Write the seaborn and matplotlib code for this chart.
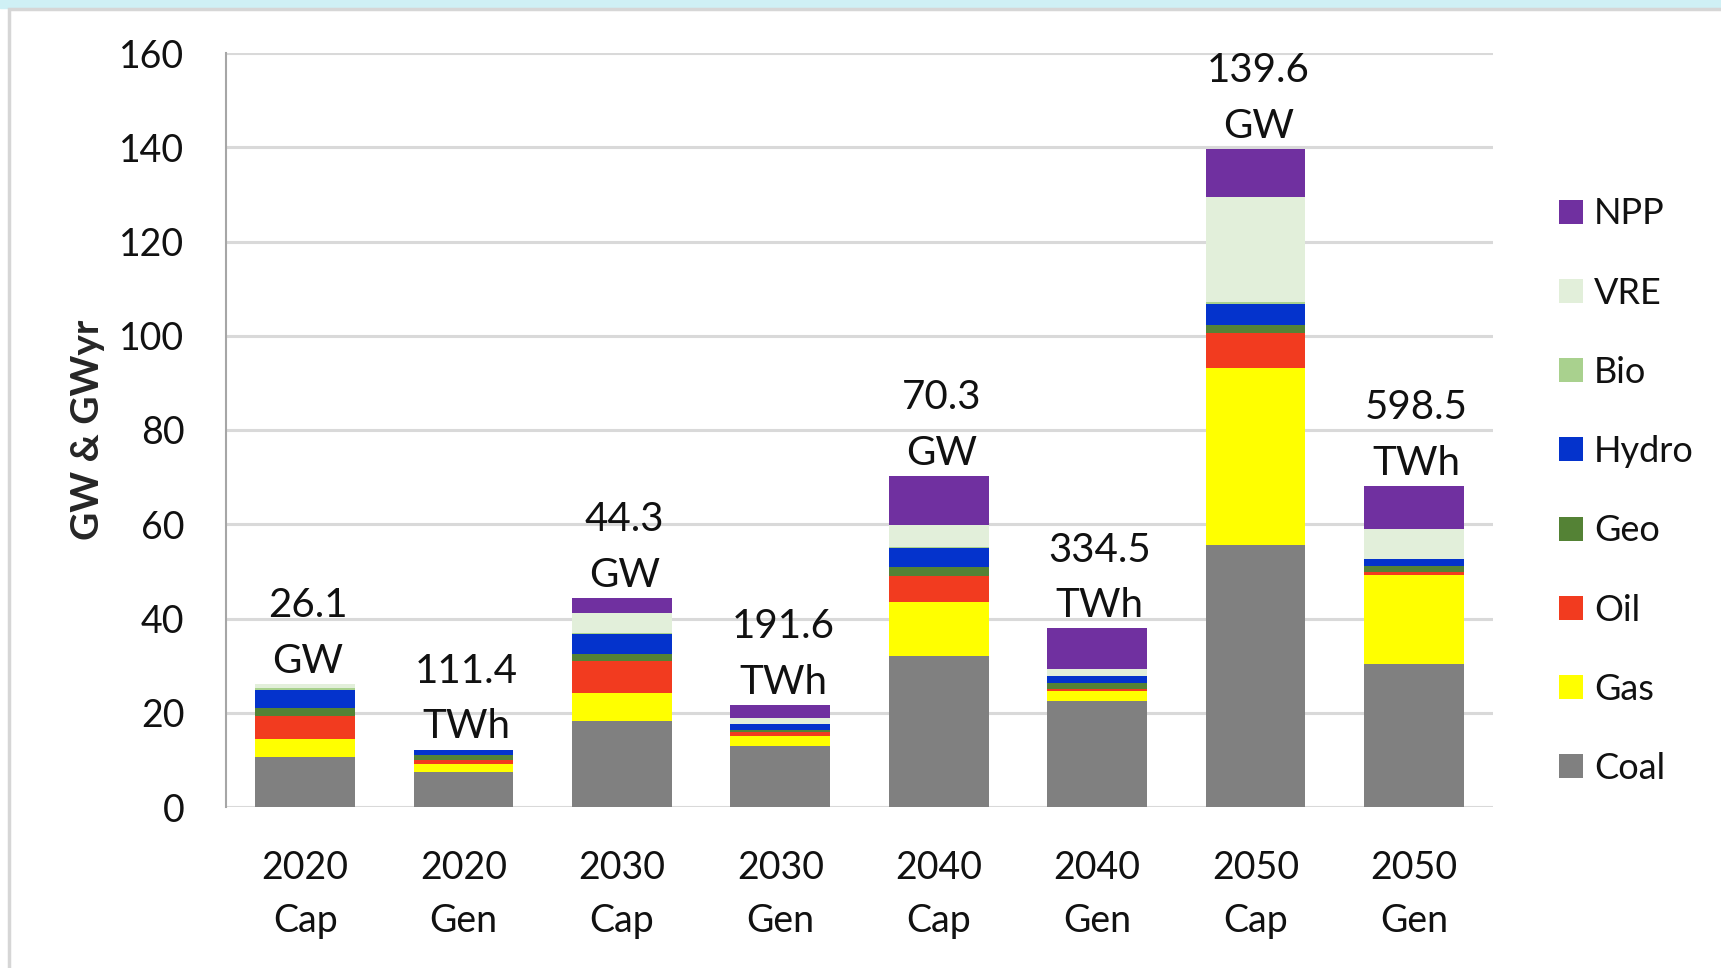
import numpy as np
import pandas as pd
import seaborn as sns
import matplotlib.pyplot as plt
from matplotlib.patches import Patch, Rectangle

# bar categories and stacked values (GW / GWyr)
categories = ["2020\nCap", "2020\nGen", "2030\nCap", "2030\nGen",
              "2040\nCap", "2040\nGen", "2050\nCap", "2050\nGen"]
coal = [10.6, 7.4, 18.3, 13.0, 32.1, 22.4, 55.7, 30.3]
gas = [3.8, 1.8, 5.8, 2.1, 11.5, 2.3, 37.4, 19.0]
oil = [5.0, 0.8, 6.8, 0.9, 5.5, 0.4, 7.5, 0.6]
geo = [1.6, 1.1, 1.6, 0.3, 1.9, 1.3, 1.6, 1.2]
hydro = [3.9, 1.0, 4.2, 1.3, 3.9, 1.3, 4.6, 1.5]
bio = [0.4, 0.1, 0.2, 0.1, 0.2, 0.1, 0.3, 0.1]
vre = [0.8, 0.0, 4.3, 1.1, 4.7, 1.4, 22.3, 6.3]
npp = [0.0, 0.0, 3.1, 2.9, 10.5, 8.7, 10.2, 9.1]
total_labels = ["26.1\nGW", "111.4\nTWh", "44.3\nGW", "191.6\nTWh",
                "70.3\nGW", "334.5\nTWh", "139.6\nGW", "598.5\nTWh"]

series = ["Coal", "Gas", "Oil", "Geo", "Hydro", "Bio", "VRE", "NPP"]
colors = {"Coal": "#808080", "Gas": "#FFFF00", "Oil": "#F23B1F",
          "Geo": "#548235", "Hydro": "#0433CC", "Bio": "#A9D18E",
          "VRE": "#E2EFDA", "NPP": "#7030A0"}

df = pd.DataFrame({"Coal": coal, "Gas": gas, "Oil": oil, "Geo": geo,
                   "Hydro": hydro, "Bio": bio, "VRE": vre, "NPP": npp},
                  index=categories)
cum = df[series].cumsum(axis=1)

sns.set_theme(style="white")
plt.rcParams["font.family"] = ["Lato", "DejaVu Sans"]
plt.rcParams["text.color"] = "#111111"

fig = plt.figure(figsize=(17.21, 9.68), dpi=100)
# screenshot frame bits
fig.patches.append(Rectangle((0, 1 - 8 / 968), 1, 8 / 968, transform=fig.transFigure,
                             color="#CFF0F5", zorder=-5))
fig.patches.append(Rectangle((9 / 1721, -0.01), 1.1, 1 - 1 / 968 - 8 / 968 + 0.01,
                             transform=fig.transFigure, fill=False,
                             edgecolor="#D6D6D6", lw=2.5, zorder=-4))

ax = fig.add_axes([226 / 1721, 1 - 807 / 968, (1493 - 226) / 1721, (807 - 53) / 968])

# draw cumulative totals from the top series down so each layer overdraws the next
for name in reversed(series):
    sns.barplot(x=categories, y=cum[name].values, color=colors[name], width=0.63,
                saturation=1, linewidth=0, ax=ax, zorder=3)

ax.set_ylim(0, 160)
ax.set_xlim(-0.5, 7.5)
ax.set_yticks(np.arange(0, 161, 20))
ax.yaxis.grid(True, color="#D9D9D9", lw=2.2, zorder=0)
ax.set_axisbelow(True)
for s in ["top", "right", "bottom"]:
    ax.spines[s].set_visible(False)
ax.spines["left"].set_color("#A6A6A6")
ax.spines["left"].set_linewidth(1.5)
ax.tick_params(axis="y", length=0, pad=30, labelsize=27, labelcolor="#111111")
ax.tick_params(axis="x", length=0, pad=31, labelsize=27, labelcolor="#111111")
for t in ax.get_xticklabels():
    t.set_linespacing(1.6)
ax.set_ylabel("GW & GWyr", fontsize=28, fontweight="bold", labelpad=10)

totals = cum["NPP"].values
for i, lab in enumerate(total_labels):
    ax.annotate(lab, (i, totals[i]), xytext=(2, 3), textcoords="offset points",
                ha="center", va="bottom", fontsize=29, linespacing=1.62,
                color="#111111", zorder=5)

handles = [Patch(facecolor=colors[n], edgecolor="none") for n in reversed(series)]
fig.legend(handles, list(reversed(series)), loc="upper left",
           bbox_to_anchor=(1545 / 1721, 1 - 183 / 968), frameon=False,
           fontsize=26, handlelength=0.65, handleheight=0.65, handletextpad=0.3,
           labelspacing=1.28, borderaxespad=0)

fig.savefig("out.png", dpi=100)
